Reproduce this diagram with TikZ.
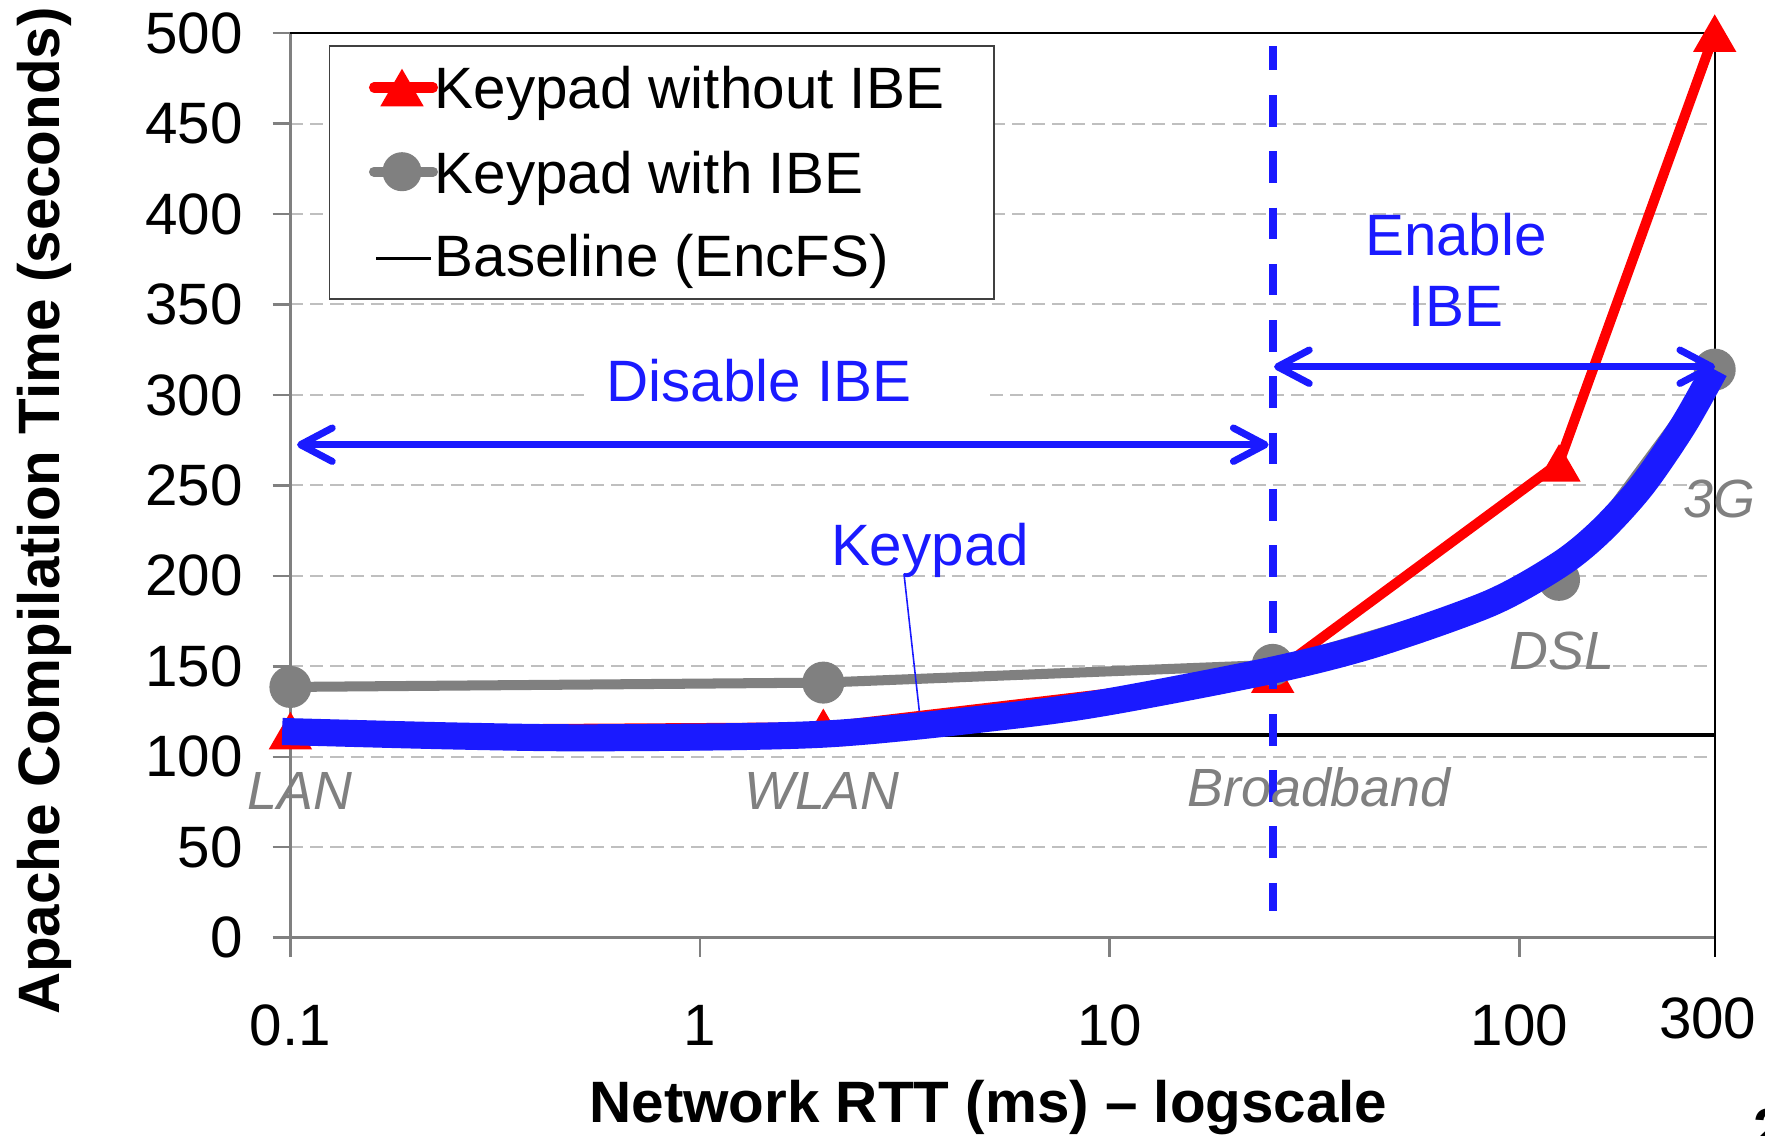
\documentclass[tikz,border=0pt]{standalone}
\usepackage{fontspec}
\setmainfont{Liberation Sans}
\usetikzlibrary{arrows.meta,shapes.geometric}
\definecolor{kblue}{RGB}{26,26,255}
\definecolor{kgray}{RGB}{128,128,128}
\definecolor{kgrid}{RGB}{191,191,191}
\begin{document}
\begin{tikzpicture}[x=0.01cm, y=-0.01cm,
  font=\fontsize{16.6}{20.1}\selectfont,
  every node/.style={inner sep=0pt},
  gridline/.style={kgrid, line width=0.57pt, dash pattern=on 3.7pt off 2pt},
  axisline/.style={kgray, line width=0.7pt},
  frameline/.style={black, line width=0.6pt},
  redser/.style={red, line width=2.85pt, line join=round, line cap=round},
  grayser/.style={kgray, line width=2.85pt, line join=round, line cap=round},
  basesr/.style={black, line width=0.95pt},
  trimark/.style={regular polygon, regular polygon sides=3, fill=red, minimum size=0.5cm, inner sep=0pt, yshift=-0.0625cm},
  dotmark/.style={circle, fill=kgray, minimum size=0.42cm, inner sep=0pt},
  ptlab/.style={kgray, font=\fontsize{15.3}{18.5}\selectfont\itshape, anchor=base},
  bluelab/.style={kblue},
  twoway/.style={kblue, line width=2pt, {Straight Barb[length=9pt,width=9.5pt,round]}-{Straight Barb[length=9pt,width=9.5pt,round]}}
]
\useasboundingbox (0,0) rectangle (1765,1136);
\fill[white] (0,0) rectangle (1765,1136);

\begin{scope}[shift={(290.4,937.7)}, x=4.094cm, y=0.01808cm]
  % grid
  \foreach \v in {50,100,150,200,250,350,400,450}
    \draw[gridline] (0,\v) -- (3.477,\v);
  \draw[gridline] (0,300) -- (0.7196,300);
  \draw[gridline] (1.7088,300) -- (3.477,300);
  % axes
  \draw[axisline] (0,-10.7) -- (0,500);
  \foreach \v in {0,50,...,500}
    \draw[axisline] (-0.0433,\v) -- (0,\v);
  \draw[axisline] (0,0) -- (3.477,0);
  \foreach \d in {1,2,3}
    \draw[axisline] (\d,0) -- (\d,-10.7);
  \draw[frameline] (0,500) -- (3.477,500) -- (3.477,-10.7);
  % tick labels
  \foreach \v in {0,50,...,500}
    \node[anchor=east] (yl\v) at ([xshift=-0.47cm]0,\v) {\v};
  \node (xl0) at (0,-48.3) {0.1};
  \node (xl1) at (1,-48.3) {1};
  \node (xl2) at (2,-48.3) {10};
  \node (xl3) at (3,-48.3) {100};
  \node (xl4) at (3.46,-44.8) {300};
  % baseline
  \draw[basesr] (0,112) -- (3.477,112);
  % data
  \coordinate (r1) at (0,114.5);
  \coordinate (r2) at (1.301,116.3);
  \coordinate (r3) at (2.398,145.7);
  \coordinate (r4) at (3.097,262.4);
  \coordinate (r5) at (3.477,500);
  \coordinate (g1) at (0,138.6);
  \coordinate (g2) at (1.301,141);
  \coordinate (g3) at (2.398,150.8);
  \coordinate (g4) at (3.097,197.8);
  \coordinate (g5) at (3.477,314);
  \draw[redser] (r1) -- (r2) -- (r3) -- (r4) -- (r5);
  \foreach \i in {1,...,5} \node[trimark] (rm\i) at (r\i) {};
  \draw[grayser] (g1) -- (g2) -- (g3) -- (g4) -- (g5);
  \foreach \i in {1,...,5} \node[dotmark] (gm\i) at (g\i) {};
  % Keypad curve
  \draw[kblue, line width=7.7pt] plot[smooth, tension=0.5] coordinates
    {(-0.02,114) (0.4,111.5) (0.75,110.5) (1.3,112.5) (1.75,122.5) (2.0,130.5) (2.4,148) (2.65,162.5) (2.93,185) (3.1,206.5) (3.2,225) (3.3,250) (3.4,283) (3.477,314)};
  % dashed divider
  \coordinate (bt) at (2.398,492.6);
  \coordinate (bb) at (2.398,14.8);
  \draw[kblue, line width=2.3pt, dash pattern=on 9pt off 7pt, dash phase=2.2pt] (bt) -- (bb);
  % arrows
  \coordinate (dl) at (0.0162,272.5);
  \coordinate (dr) at (2.388,272.5);
  \draw[twoway] (dl) -- (dr);
  \coordinate (el) at (2.4013,315.6);
  \coordinate (er) at (3.478,315.6);
  \draw[twoway] (el) -- (er);
\end{scope}

% annotations
\node[bluelab, anchor=base] (dis) at (759,401.7) {Disable IBE};
\node[bluelab, align=center] (ena) at (1456,270) {Enable\\IBE};
\node[bluelab, anchor=base] (kplab) at (930,565) {Keypad};
\coordinate (kptip) at (919.3,711);
\draw[kblue, line width=0.45pt] ([xshift=-0.26cm, yshift=0.04cm]kplab.south) -- (kptip);

% point labels
\node[ptlab] (lan) at (300,809) {LAN};
\node[ptlab] (wlan) at (822,809) {WLAN};
\node[ptlab] (bb) at (1319,806) {Broadband};
\node[ptlab] (dsl) at (1562,669) {DSL};
\node[ptlab] (g3g) at (1719,517) {3G};

% legend
\node[draw=black!75, line width=0.5pt, fill=white, minimum width=6.643cm, minimum height=2.533cm, anchor=north west] (legend) at (328.7,45) {};
\coordinate (la1) at (374,87.5);
\coordinate (lb1) at (433,87.5);
\draw[redser] (la1) -- (lb1);
\node[trimark] (lm1) at (402,87.5) {};
\node[anchor=base west] (lt1) at (434,108.3) {Keypad without IBE};
\coordinate (la2) at (374,171.7);
\coordinate (lb2) at (433,171.7);
\draw[grayser] (la2) -- (lb2);
\node[dotmark, minimum size=0.39cm] (lm2) at (402,171.7) {};
\node[anchor=base west] (lt2) at (434,193.3) {Keypad with IBE};
\coordinate (la3) at (376,258.3);
\coordinate (lb3) at (431,258.3);
\draw[basesr] (la3) -- (lb3);
\node[anchor=base west] (lt3) at (434,276.7) {Baseline (EncFS)};

% axis titles
\node[anchor=base, font=\fontsize{16.6}{20.1}\selectfont\bfseries] (xtitle) at (988.5,1122) {Network RTT (ms) – logscale};
\node[anchor=base, rotate=90, font=\fontsize{16.6}{20.1}\selectfont\bfseries] (ytitle) at (60,511) {Apache Compilation Time (seconds)};
\node[anchor=base west, font=\fontsize{16.6}{20.1}\selectfont\bfseries] (pg) at (1753,1149) {2};
\end{tikzpicture}
\end{document}
